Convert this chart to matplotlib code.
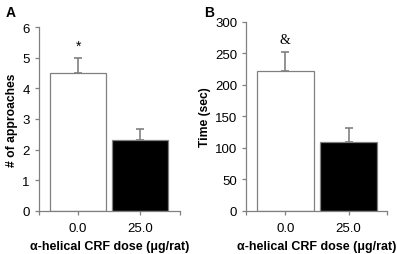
import matplotlib
matplotlib.use("Agg")
import matplotlib.pyplot as plt

categories = ["0.0", "25.0"]
approaches = [4.5, 2.33]
approaches_err = [0.5, 0.33]
time_sec = [222, 109]
time_err = [30, 22]
bar_colors = ["white", "black"]

plt.rcParams['font.family'] = ['Liberation Sans', 'DejaVu Sans']

fig = plt.figure(figsize=(3.97, 2.55), dpi=100)
axA = fig.add_axes([0.098, 0.169, 0.355, 0.721])
axB = fig.add_axes([0.620, 0.169, 0.355, 0.741])

gray = "#808080"


def draw(ax, vals, errs, xlim, ylim, yticks, ylabel, sig, sigfam, sigsize, sigoff):
    x = [0, 1]
    ax.bar(x, vals, width=0.9, color=bar_colors, edgecolor=gray, linewidth=0.9, zorder=2)
    ax.errorbar(x, vals, yerr=[[0, 0], errs], fmt='none', ecolor=gray, elinewidth=1.2,
                capsize=3, capthick=1.2, zorder=3)
    ax.set_xlim(*xlim)
    ax.set_ylim(*ylim)
    ax.set_yticks(yticks)
    ax.set_xticks(x)
    ax.set_xticklabels(categories)
    ax.set_xticks(list(xlim), minor=True)
    for s in ["top", "right"]:
        ax.spines[s].set_visible(False)
    for s in ["left", "bottom"]:
        ax.spines[s].set_color(gray)
        ax.spines[s].set_linewidth(0.9)
    ax.tick_params(axis='both', which='both', direction='out', length=3, color=gray,
                   labelsize=9.5, width=0.9)
    ax.tick_params(axis='x', pad=5)
    ax.set_xlabel("α-helical CRF dose (μg/rat)", fontsize=9, fontweight='bold', labelpad=4)
    ax.set_ylabel(ylabel, fontsize=8.7, fontweight='bold', labelpad=3)
    ax.text(0, vals[0] + errs[0] + sigoff, sig, ha='center', va='bottom', family=sigfam,
            fontsize=sigsize)


draw(axA, approaches, approaches_err, (-0.63, 1.64), (0, 6), range(0, 7),
     "# of approaches", "*", ['Liberation Sans'], 10, 0.15)
draw(axB, time_sec, time_err, (-0.62, 1.61), (0, 300), range(0, 301, 50),
     "Time (sec)", "&", ['Liberation Serif'], 10, 10)

fig.text(0.013, 0.975, "A", fontsize=10, fontweight='bold', va='top')
fig.text(0.515, 0.975, "B", fontsize=10, fontweight='bold', va='top')

fig.savefig("out.png", dpi=100)
